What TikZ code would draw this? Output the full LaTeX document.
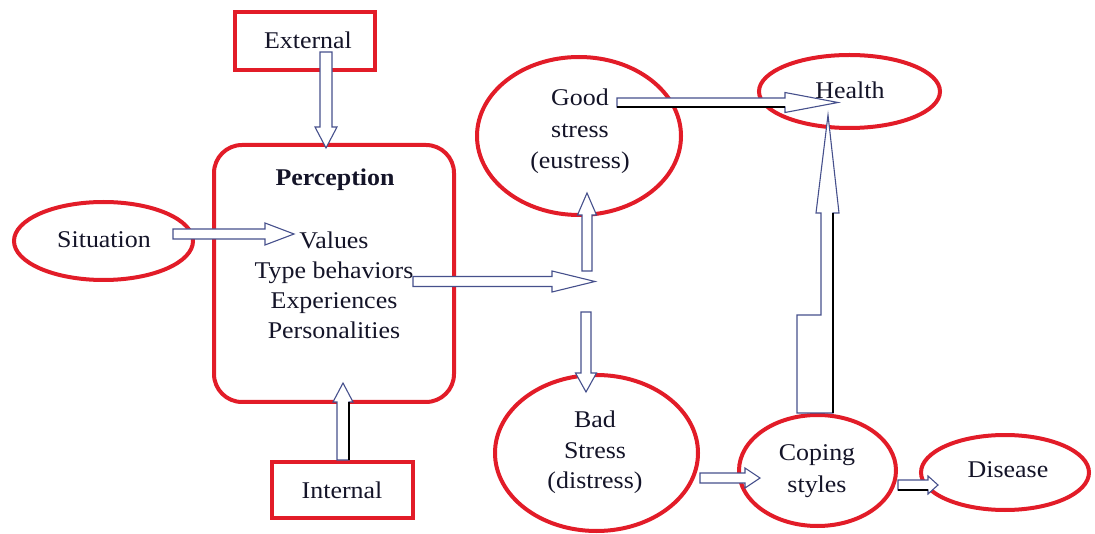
\documentclass[tikz,border=0pt]{standalone}
\usepackage{fontspec}
\setmainfont{Liberation Serif}[FakeStretch=1.08]
\usetikzlibrary{shapes.geometric}
\definecolor{redline}{RGB}{226,28,40}
\definecolor{arrowc}{RGB}{70,80,140}
\definecolor{txt}{RGB}{20,20,40}
\tikzset{
  redell/.style={ellipse, draw=redline, line width=4pt, inner sep=0pt},
  redbox/.style={rectangle, draw=redline, line width=4.5pt, inner sep=0pt},
  lbl/.style={text=txt, font=\fontsize{24}{31}\selectfont, align=center, inner sep=0pt},
  blockarr/.style={draw=arrowc, fill=white, line width=1.1pt, line join=miter},
  shadowedge/.style={draw=black, line width=1.3pt},
}
% horizontal block arrow: start x, head base x, tip x, centre y, shaft half, head half
\newcommand{\hblock}[6]{%
  \draw[blockarr] (#1,#4-#5) -- (#2,#4-#5) -- (#2,#4-#6) -- (#3,#4) -- (#2,#4+#6) -- (#2,#4+#5) -- (#1,#4+#5) -- cycle;}
% vertical block arrow: start y, head base y, tip y, centre x, shaft half, head half
\newcommand{\vblock}[6]{%
  \draw[blockarr] (#4-#5,#1) -- (#4-#5,#2) -- (#4-#6,#2) -- (#4,#3) -- (#4+#6,#2) -- (#4+#5,#2) -- (#4+#5,#1) -- cycle;}
\begin{document}
\begin{tikzpicture}[x=1pt,y=-1pt]
\useasboundingbox (0,0) rectangle (1095,534);
% shapes
\node[redbox, minimum width=140pt, minimum height=58pt] (ext) at (305,41) {};
\node[redbox, minimum width=141pt, minimum height=56pt] (int) at (342.5,490) {};
\node[rectangle, rounded corners=28pt, draw=redline, line width=4pt, minimum width=240pt, minimum height=257pt] (perc) at (334,273.5) {};
\node[redell, minimum width=179pt, minimum height=78pt] (sit) at (103.5,241) {};
\node[redell, minimum width=204pt, minimum height=158pt] (good) at (579,136) {};
\node[redell, minimum width=203pt, minimum height=156pt] (bad) at (596.5,453) {};
\node[redell, minimum width=181pt, minimum height=73pt] (health) at (849.5,91.5) {};
\node[redell, minimum width=157pt, minimum height=111pt] (coping) at (817.5,470.5) {};
\node[redell, minimum width=168pt, minimum height=75pt] (disease) at (1005,472.5) {};
% texts
\node[lbl] (exttxt) at (308,40) {External};
\node[lbl] (inttxt) at (342,490) {Internal};
\node[lbl] (sittxt) at (104,240) {Situation};
\node[lbl, font=\fontsize{24}{31}\selectfont\bfseries] (perctitle) at (335,180) {Perception};
\node[lbl, font=\fontsize{24}{30}\selectfont] (perclist) at (334,285) {Values\\Type behaviors\\Experiences\\Personalities};
\node[lbl, font=\fontsize{24}{31.5}\selectfont] (goodtxt) at (580,131.5) {Good\\stress\\(eustress)};
\node[lbl, font=\fontsize{24}{30.5}\selectfont] (badtxt) at (595,452.5) {Bad\\Stress\\(distress)};
\node[lbl] (healthtxt) at (850,90) {Health};
\node[lbl, font=\fontsize{24}{32}\selectfont] (copingtxt) at (817,471) {Coping\\styles};
\node[lbl] (diseasetxt) at (1008,470) {Disease};
% block arrows
\vblock{52}{127}{148}{326}{6}{11}
\vblock{460}{402}{383}{343}{6}{10}
\draw[shadowedge] (349,402) -- (349,460);
\hblock{173}{265}{294}{234}{5}{11}
\hblock{413}{552}{595}{281.5}{5}{10.5}
\vblock{271}{215}{193}{587}{5}{9.5}
\vblock{312}{373}{392}{586}{5}{10.5}
\hblock{617}{785}{838}{102.5}{4.5}{10}
\draw[shadowedge] (617,107) -- (785,107);
\hblock{700}{745}{760}{478}{5}{10}
\hblock{898}{928}{938}{485}{5}{9}
\draw[shadowedge] (898,490) -- (928,490);
\draw[blockarr] (797,413) -- (797,315) -- (821,315) -- (821,213) -- (816,213) -- (828,115) -- (839,213) -- (833,213) -- (833,413) -- cycle;
\draw[shadowedge] (833,213) -- (833,413);
\end{tikzpicture}
\end{document}
